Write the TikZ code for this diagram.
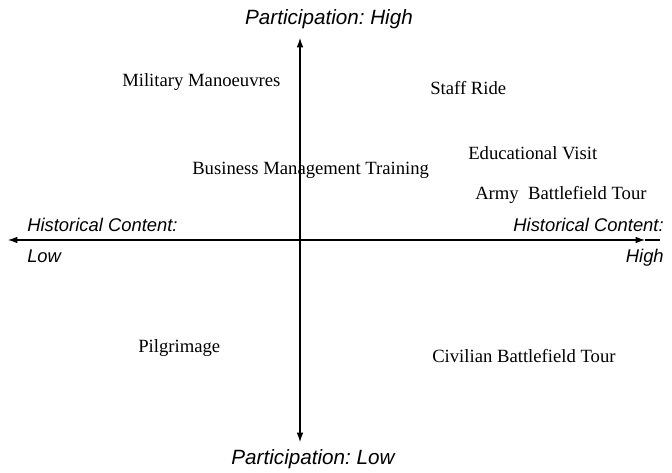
\documentclass[tikz,border=0pt]{standalone}
\usepackage{fontspec}
\setmainfont{Liberation Serif}
\setsansfont{Liberation Sans}
\usepackage{tikz}
\usetikzlibrary{arrows.meta,calc,positioning}
\frenchspacing

\tikzset{
  item/.style={anchor=base west,inner sep=0pt,font=\fontsize{14}{16}\selectfont},
  axislabel/.style={inner sep=0pt,font=\sffamily\itshape\fontsize{15.5}{18}\selectfont},
  sidelabel/.style={inner sep=0pt,font=\sffamily\itshape\fontsize{13.8}{16}\selectfont},
  axis/.style={line width=0.8pt,-{Latex[length=7pt,width=5pt]}},
}

\begin{document}
\begin{tikzpicture}[x=0.75pt,y=-0.75pt]
%
  \useasboundingbox (0,0) rectangle (672,473);
%
  \coordinate (o)   at (300,240) ;
  \coordinate (top) at (300,38) ;
  \coordinate (bot) at (300,442) ;
  \coordinate (lft) at (8,240) ;
  \coordinate (rgt) at (645,240) ;
  \coordinate (end) at (660,240) ;
%
  \draw [axis] (o) -- (top) ;
  \draw [axis] (o) -- (bot) ;
  \draw [axis] (o) -- (lft) ;
  \draw [axis] (o) -- (rgt) ;
  \draw [line width=0.8pt] (rgt) -- (end) ;
%
  \node (parthigh) [axislabel,anchor=base] at (329,25)  {Participation: High} ;
  \node (partlow)  [axislabel,anchor=base] at (313,465) {Participation: Low} ;
%
  \node (histlo)   [sidelabel,anchor=base west] at (27,232)  {Historical Content:} ;
  \node (lowlbl)   [sidelabel,anchor=base west] at (27,263)  {Low} ;
  \node (histhi)   [sidelabel,anchor=base east] at (664,232) {Historical Content:} ;
  \node (highlbl)  [sidelabel,anchor=base east] at (664,263) {High} ;
%
  \node (military) [item] at (122,87)  {Military Manoeuvres} ;
  \node (staff)    [item] at (430,95)  {Staff Ride} ;
  \node (business) [item] at (192,175) {Business Management Training} ;
  \node (edvisit)  [item] at (468,160) {Educational Visit} ;
  \node (army)     [item] at (475,200) {Army\ \ Battlefield Tour} ;
  \node (pilgrim)  [item] at (138,353) {Pilgrimage} ;
  \node (civilian) [item] at (432,363) {Civilian Battlefield Tour} ;
%
\end{tikzpicture}
\end{document}
